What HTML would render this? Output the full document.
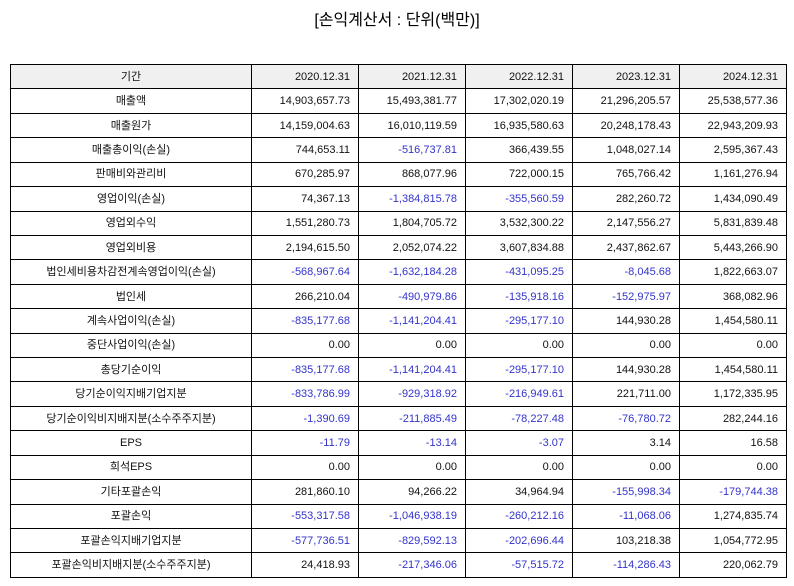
<!DOCTYPE html>
<html><head><meta charset="utf-8">
<style>
body{margin:0;width:794px;height:586px;background:#fff;font-family:"Liberation Sans","Noto Sans CJK KR",sans-serif;overflow:hidden;position:relative}
#title{position:absolute;left:0;width:794px;top:6px;text-align:center;font-size:16px;color:#000}
table{position:absolute;left:10px;top:64px;border-collapse:collapse;table-layout:fixed;width:776px;font-size:11px;color:#111}
td{border:1.3px solid #000;height:24.43px;line-height:14px;padding:0 8px;white-space:nowrap;text-align:right;box-sizing:border-box}
td.l{text-align:center}
tr.h td{background:#f0f0f0}
td.n{color:#3333cc}
</style></head><body>
<div id="title">[손익계산서 : 단위(백만)]</div>
<table id="t">
<colgroup><col style="width:241px"><col style="width:107px"><col style="width:107px"><col style="width:107px"><col style="width:107px"><col style="width:107px"></colgroup>
<tbody id="tb"></tbody></table>
<script>
const periods=["2020.12.31","2021.12.31","2022.12.31","2023.12.31","2024.12.31"];
const items=["매출액","매출원가","매출총이익(손실)","판매비와관리비","영업이익(손실)","영업외수익","영업외비용","법인세비용차감전계속영업이익(손실)","법인세","계속사업이익(손실)","중단사업이익(손실)","총당기순이익","당기순이익지배기업지분","당기순이익비지배지분(소수주주지분)","EPS","희석EPS","기타포괄손익","포괄손익","포괄손익지배기업지분","포괄손익비지배지분(소수주주지분)"];
const y2020=["14,903,657.73","14,159,004.63","744,653.11","670,285.97","74,367.13","1,551,280.73","2,194,615.50","-568,967.64","266,210.04","-835,177.68","0.00","-835,177.68","-833,786.99","-1,390.69","-11.79","0.00","281,860.10","-553,317.58","-577,736.51","24,418.93"];
const y2021=["15,493,381.77","16,010,119.59","-516,737.81","868,077.96","-1,384,815.78","1,804,705.72","2,052,074.22","-1,632,184.28","-490,979.86","-1,141,204.41","0.00","-1,141,204.41","-929,318.92","-211,885.49","-13.14","0.00","94,266.22","-1,046,938.19","-829,592.13","-217,346.06"];
const y2022=["17,302,020.19","16,935,580.63","366,439.55","722,000.15","-355,560.59","3,532,300.22","3,607,834.88","-431,095.25","-135,918.16","-295,177.10","0.00","-295,177.10","-216,949.61","-78,227.48","-3.07","0.00","34,964.94","-260,212.16","-202,696.44","-57,515.72"];
const y2023=["21,296,205.57","20,248,178.43","1,048,027.14","765,766.42","282,260.72","2,147,556.27","2,437,862.67","-8,045.68","-152,975.97","144,930.28","0.00","144,930.28","221,711.00","-76,780.72","3.14","0.00","-155,998.34","-11,068.06","103,218.38","-114,286.43"];
const y2024=["25,538,577.36","22,943,209.93","2,595,367.43","1,161,276.94","1,434,090.49","5,831,839.48","5,443,266.90","1,822,663.07","368,082.96","1,454,580.11","0.00","1,454,580.11","1,172,335.95","282,244.16","16.58","0.00","-179,744.38","1,274,835.74","1,054,772.95","220,062.79"];
const cols=[y2020,y2021,y2022,y2023,y2024];
const tb=document.getElementById('tb');
function cell(tr,txt,cls){const td=document.createElement('td');td.textContent=txt;if(cls)td.className=cls;tr.appendChild(td);return td;}
const hr=document.createElement('tr');hr.className='h';


const h0=cell(hr,'기간','l');


periods.forEach(p=>{const c=cell(hr,p);

});
tb.appendChild(hr);
items.forEach((it,i)=>{const tr=document.createElement('tr');


const l=cell(tr,it,'l');


cols.forEach(col=>{const v=col[i];const c=cell(tr,v,v.trim().startsWith('-')?'n':'');

});
tb.appendChild(tr);});
</script>
</body></html>
